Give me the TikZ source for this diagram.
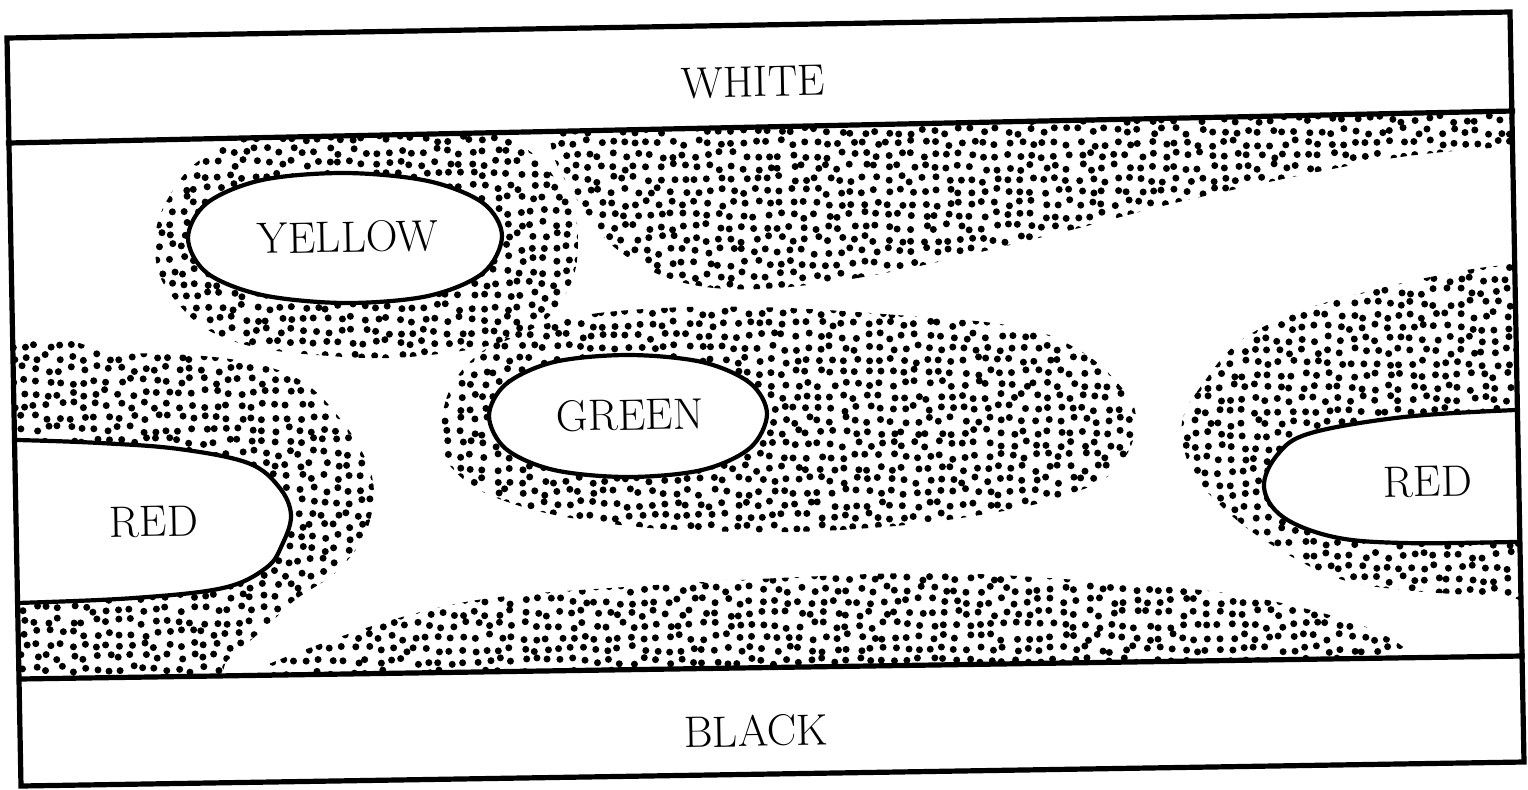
\documentclass[tikz,border=0pt]{standalone}
\usepackage{tikz}
\newcommand\stipdots[4]{%
  \fill[black] \foreach \i in {0,...,#2}{\foreach \j in {0,...,#4}{%
    ({#1+12*\i+3.4*rand},{#3+12*\j+3.4*rand}) circle[radius=1.75pt]}};}
\begin{document}
\begin{tikzpicture}[x=0.5pt,y=-0.5pt,
  blobline/.style={line width=2.1pt,fill=white,line join=round},
  frameline/.style={line width=2.6pt,line join=miter,line cap=rect},
  lbl/.style={font=\fontsize{22}{26}\selectfont,rotate=1.1,inner sep=0pt}]
\pgfmathsetseed{7}
\fill[white] (0,0) rectangle (1528,789);
\useasboundingbox (0,0) rectangle (1528,789);
\begin{scope}
\clip (8.5,143) -- (1512.5,111) -- (1522,656) -- (19.5,679) -- cycle;
% yellow halo
\begin{scope}
\clip plot[smooth cycle,tension=0.7] coordinates {(155,250) (170,195) (215,150) (300,118) (430,118) (520,145) (565,195) (578,240) (565,295) (520,335) (430,355) (330,356) (230,340) (175,300)};
\stipdots{148}{36}{115}{21}
\end{scope}
% top band
\begin{scope}
\clip plot[smooth cycle,tension=0.6] coordinates {(545,95) (550,140) (558,167) (584,210) (614,247) (665,277) (727,289) (808,285) (910,268) (1063,232) (1196,198) (1381,160) (1501,147) (1545,143) (1545,90)};
\stipdots{540}{84}{95}{17}
\end{scope}
% green halo
\begin{scope}
\clip plot[smooth cycle,tension=0.7] coordinates {(441,433) (455,380) (500,340) (553,322) (630,310) (757,307) (910,316) (1012,326) (1070,345) (1115,380) (1136,420) (1115,470) (1060,497) (980,515) (870,528) (740,532) (604,523) (502,500) (451,467)};
\stipdots{436}{59}{300}{20}
\end{scope}
% left red halo
\begin{scope}
\clip plot[smooth cycle,tension=0.6] coordinates {(-10,356) (120,353) (230,359) (300,380) (345,425) (370,470) (373,505) (362,540) (335,573) (295,600) (265,628) (228,660) (195,695) (-10,695)};
\stipdots{0}{32}{345}{29}
\end{scope}
% right red halo
\begin{scope}
\clip plot[smooth cycle,tension=0.6] coordinates {(1545,262) (1505,265) (1461,271) (1381,288) (1300,311) (1240,341) (1204,382) (1182,422) (1190,467) (1218,503) (1264,540) (1334,577) (1403,590) (1510,597) (1545,597)};
\stipdots{1172}{30}{255}{29}
\end{scope}
% bottom band
\begin{scope}
\clip plot[smooth cycle,tension=0.6] coordinates {(190,710) (248,674) (312,647) (402,617) (491,598) (625,587) (800,577) (939,573) (1078,580) (1218,592) (1311,610) (1380,633) (1418,662) (1440,710)};
\stipdots{176}{106}{565}{11}
\end{scope}
% blobs
\filldraw[blobline] plot[smooth cycle,tension=0.55] coordinates {(502,236) (483,203) (428,181) (345,173) (262,180) (207,203) (188,238) (207,273) (262,295) (345,303) (428,296) (483,273)};
\filldraw[blobline] plot[smooth cycle,tension=0.55] coordinates {(767,414) (750,383) (702,362) (628,355) (554,362) (506,384) (489,416) (506,449) (554,470) (628,477) (702,470) (750,448)};
\filldraw[blobline] plot[smooth,tension=0.6] coordinates {(-5,440) (18,440) (100,443) (179,449) (248,463) (279,487) (291,515) (282,545) (266,568) (223,588) (134,598) (18,603) (-5,603)} -- cycle;
\filldraw[blobline] plot[smooth,tension=0.6] coordinates {(1545,410) (1515,410) (1404,417) (1311,433) (1278,454) (1264,487) (1283,517) (1334,537) (1404,543) (1517,542) (1545,542)} -- cycle;
\end{scope}
% frame
\coordinate (tl) at (7,38);
\coordinate (tr) at (1510,12);
\coordinate (br) at (1524,762);
\coordinate (bl) at (21,786);
\draw[frameline] (tl) -- (tr) -- (br) -- (bl) -- cycle;
\draw[frameline] (8.5,143) -- (1512.5,111);
\draw[frameline] (19.5,679) -- (1522,656);
% labels
\node[lbl] (white) at (753,82) {WHITE};
\node[lbl] (black) at (756,731) {BLACK};
\node[lbl] (yellow) at (348,237) {YELLOW};
\node[lbl] (green) at (630,415) {GREEN};
\node[lbl] (redl) at (154,522) {RED};
\node[lbl] (redr) at (1428,482) {RED};
\end{tikzpicture}
\end{document}
